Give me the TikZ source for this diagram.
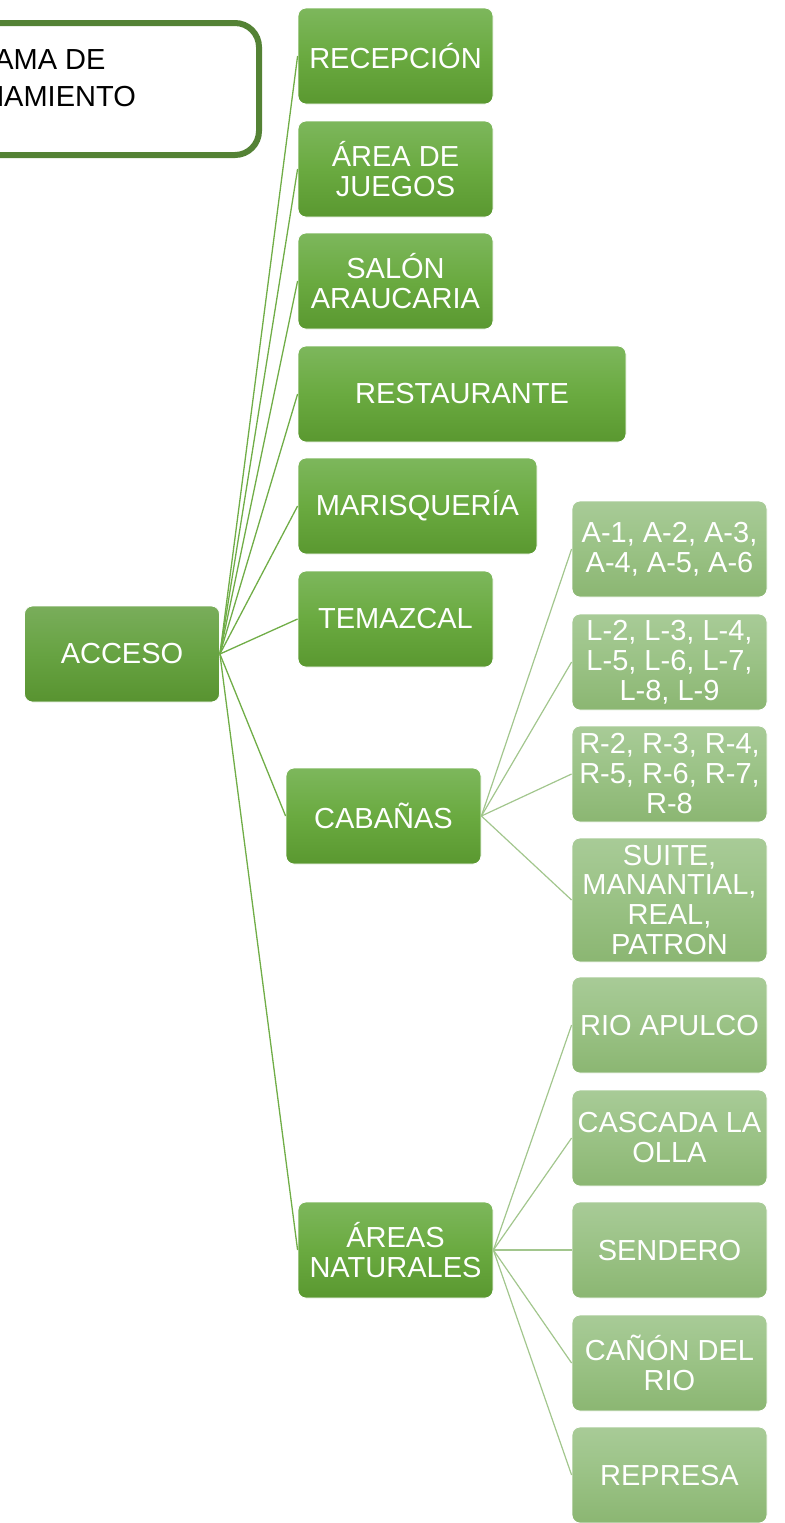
\documentclass[tikz,border=0pt]{standalone}
\usepackage{fontspec}
\setmainfont{Liberation Sans}
\usepackage{tikz}
\usetikzlibrary{positioning}
\definecolor{HojaTop}{HTML}{7DB75C}
\definecolor{HojaMid}{HTML}{6AAA40}
\definecolor{HojaBot}{HTML}{5A9830}
\definecolor{RaizTop}{HTML}{79AD5B}
\definecolor{RaizMid}{HTML}{67A342}
\definecolor{RaizBot}{HTML}{589330}
\definecolor{SubTop}{HTML}{A8CB97}
\definecolor{SubMid}{HTML}{9AC285}
\definecolor{SubBot}{HTML}{8BB672}
\definecolor{LineaVerde}{HTML}{70AD47}
\definecolor{LineaClara}{HTML}{A2C68D}
\definecolor{MarcoVerde}{HTML}{548235}

\begin{document}
\begin{tikzpicture}[
            x=0.5pt, y=-0.5pt,
            font=\fontsize{14.5}{15}\selectfont,
            nodebox/.style={
                    draw=white, line width=0.4pt,
                    rounded corners=4pt,
                    inner sep=1pt,
                    align=center,
                    text=white,
                    minimum width=97.5pt,
                    minimum height=48pt
                },
            rootbox/.style={nodebox, top color=RaizTop, bottom color=RaizBot, middle color=RaizMid},
            areabox/.style={nodebox, top color=HojaTop, bottom color=HojaBot, middle color=HojaMid},
            subbox/.style={nodebox, top color=SubTop, bottom color=SubBot, middle color=SubMid},
            enlace/.style={draw=LineaVerde, line width=0.65pt},
            enlacesub/.style={draw=LineaClara, line width=0.6pt},
        ]
        \useasboundingbox (0,0) rectangle (785,1523);

        % title box, cut by the left margin
        \node[draw=MarcoVerde, line width=3pt, rounded corners=12pt, fill=white,
            minimum width=249.5pt, minimum height=66pt] (titulo) at (9.5,89) {};
        \node[align=center, font=\fontsize{14.5}{18.5}\selectfont] (titulotexto) at (4,78.5)
            {DIAGRAMA DE\\FUNCIONAMIENTO};

        % root
        \node[rootbox] (acceso) at (122,654) {ACCESO};

        % areas
        \node[areabox] (recepcion) at (395.5,56) {RECEPCIÓN};
        \node[areabox] (juegos) at (395.5,169) {ÁREA DE\\JUEGOS};
        \node[areabox] (salon) at (395.5,281) {SALÓN\\ARAUCARIA};
        \node[areabox, minimum width=164pt] (restaurante) at (462,394) {RESTAURANTE};
        \node[areabox, minimum width=119.5pt] (marisqueria) at (417.5,506) {MARISQUERÍA};
        \node[areabox] (temazcal) at (395.5,619) {TEMAZCAL};
        \node[areabox] (cabanas) at (383.5,816) {CABAÑAS};
        \node[areabox] (naturales) at (395.5,1250) {ÁREAS\\NATURALES};

        % cabins
        \node[subbox] (grupoA) at (669.5,549) {A-1, A-2, A-3,\\A-4, A-5, A-6};
        \node[subbox] (grupoL) at (669.5,662) {L-2, L-3, L-4,\\L-5, L-6, L-7,\\L-8, L-9};
        \node[subbox] (grupoR) at (669.5,774) {R-2, R-3, R-4,\\R-5, R-6, R-7,\\R-8};
        \node[subbox, minimum height=62pt] (suite) at (669.5,900) {SUITE,\\MANANTIAL,\\REAL,\\PATRON};

        % natural areas
        \node[subbox] (apulco) at (669.5,1025) {RIO APULCO};
        \node[subbox] (cascada) at (669.5,1138) {CASCADA LA\\OLLA};
        \node[subbox] (sendero) at (669.5,1250) {SENDERO};
        \node[subbox] (canon) at (669.5,1363) {CAÑÓN DEL\\RIO};
        \node[subbox] (represa) at (669.5,1475) {REPRESA};

        % connectors
        \foreach \hijo in {recepcion,juegos,salon,restaurante,marisqueria,temazcal,cabanas,naturales}
            \draw[enlace] (acceso.east) -- (\hijo.west);
        \foreach \hijo in {grupoA,grupoL,grupoR,suite}
            \draw[enlacesub] (cabanas.east) -- (\hijo.west);
        \foreach \hijo in {apulco,cascada,sendero,canon,represa}
            \draw[enlacesub] (naturales.east) -- (\hijo.west);

    \end{tikzpicture}
\end{document}
